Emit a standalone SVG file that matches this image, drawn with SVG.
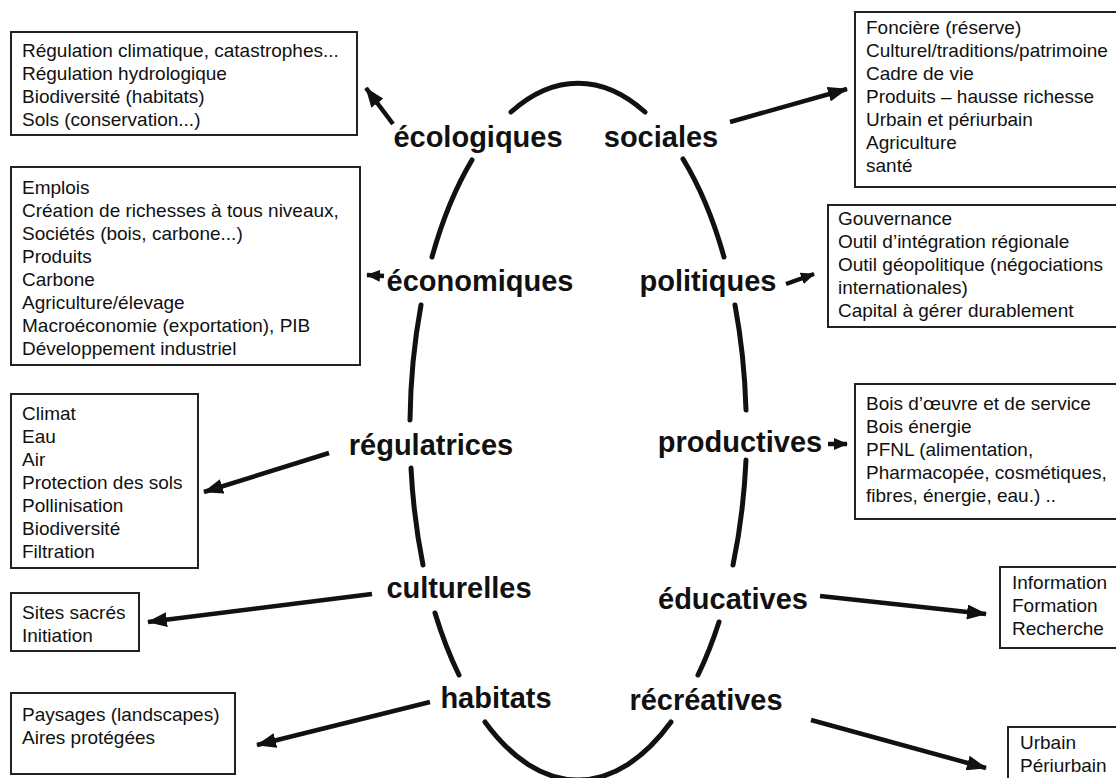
<svg xmlns="http://www.w3.org/2000/svg" width="1116" height="778" viewBox="0 0 1116 778">
<style>
.box{fill:#fff;stroke:#222;stroke-width:2}
.bt{font-family:"Liberation Sans",Arial,sans-serif;font-size:19px;fill:#111}
.lab{font-family:"Liberation Sans",Arial,sans-serif;font-size:29px;font-weight:bold;fill:#111;text-anchor:middle}
.arc{fill:none;stroke:#111;stroke-width:5;stroke-linecap:round}
.arr{fill:none;stroke:#111;stroke-width:4.5}
</style>
<defs>
<marker id="ah" viewBox="0 0 20 15" markerWidth="20" markerHeight="15" refX="19" refY="7.5" orient="auto" markerUnits="userSpaceOnUse"><path d="M0,0 L20,7.5 L0,15 z" fill="#111"/></marker>
<marker id="ahs" viewBox="0 0 14 12" markerWidth="14" markerHeight="12" refX="13" refY="6" orient="auto" markerUnits="userSpaceOnUse"><path d="M0,0 L14,6 L0,12 z" fill="#111"/></marker>
</defs>
<rect width="1116" height="778" fill="#fff"/>

<g id="ellipse">
<path class="arc" d="M511 112 A168 347 0 0 1 645 112"/>
<path class="arc" d="M472 160 A168 347 0 0 0 432 257"/>
<path class="arc" d="M421 305 A168 347 0 0 0 410 420"/>
<path class="arc" d="M411 468 A168 347 0 0 0 423 565"/>
<path class="arc" d="M435 613 A168 347 0 0 0 459 675"/>
<path class="arc" d="M485 722 A168 347 0 0 0 671 722"/>
<path class="arc" d="M683 159 A168 347 0 0 1 724 257"/>
<path class="arc" d="M735 305 A168 347 0 0 1 746 410"/>
<path class="arc" d="M746 460 A168 347 0 0 1 733 565"/>
<path class="arc" d="M719 622 A168 347 0 0 1 698 675"/>
</g>

<g id="connectors">
<path class="arr" d="M393 124 L366 88" marker-end="url(#ah)"/>
<path class="arr" d="M730 122 L847 89" marker-end="url(#ah)"/>
<path class="arr" d="M384 276 L367 275" marker-end="url(#ahs)"/>
<path class="arr" d="M786 284 L814 274" marker-end="url(#ahs)"/>
<path class="arr" d="M329 453 L204 492" marker-end="url(#ah)"/>
<path class="arr" d="M828 444 L847 444" marker-end="url(#ahs)"/>
<path class="arr" d="M372 594 L148 622" marker-end="url(#ah)"/>
<path class="arr" d="M430 702 L257 745" marker-end="url(#ah)"/>
<path class="arr" d="M820 596 L986 614" marker-end="url(#ah)"/>
<path class="arr" d="M811 720 L986 768" marker-end="url(#ah)"/>
</g>

<g id="lab-ecologiques"><text class="lab" x="478" y="147">écologiques</text></g>
<g id="lab-sociales"><text class="lab" x="661" y="147">sociales</text></g>
<g id="lab-economiques"><text class="lab" x="480" y="291">économiques</text></g>
<g id="lab-politiques"><text class="lab" x="708" y="291">politiques</text></g>
<g id="lab-regulatrices"><text class="lab" x="431" y="455">régulatrices</text></g>
<g id="lab-productives"><text class="lab" x="740" y="452">productives</text></g>
<g id="lab-culturelles"><text class="lab" x="459" y="598">culturelles</text></g>
<g id="lab-educatives"><text class="lab" x="733" y="609">éducatives</text></g>
<g id="lab-habitats"><text class="lab" x="496" y="708">habitats</text></g>
<g id="lab-recreatives"><text class="lab" x="706" y="710">récréatives</text></g>

<g id="box-ecologiques">
<rect class="box" x="11" y="32" width="346" height="103"/>
<text class="bt"><tspan x="22" y="57">Régulation climatique, catastrophes...</tspan><tspan x="22" y="80">Régulation hydrologique</tspan><tspan x="22" y="103">Biodiversité (habitats)</tspan><tspan x="22" y="126">Sols (conservation...)</tspan></text>
</g>
<g id="box-economiques">
<rect class="box" x="11" y="167" width="349" height="198"/>
<text class="bt"><tspan x="22" y="194">Emplois</tspan><tspan x="22" y="217">Création de richesses à tous niveaux,</tspan><tspan x="22" y="240">Sociétés (bois, carbone...)</tspan><tspan x="22" y="263">Produits</tspan><tspan x="22" y="286">Carbone</tspan><tspan x="22" y="309">Agriculture/élevage</tspan><tspan x="22" y="332">Macroéconomie (exportation), PIB</tspan><tspan x="22" y="355">Développement industriel</tspan></text>
</g>
<g id="box-regulatrices">
<rect class="box" x="11" y="394" width="187" height="174"/>
<text class="bt"><tspan x="22" y="420">Climat</tspan><tspan x="22" y="443">Eau</tspan><tspan x="22" y="466">Air</tspan><tspan x="22" y="489">Protection des sols</tspan><tspan x="22" y="512">Pollinisation</tspan><tspan x="22" y="535">Biodiversité</tspan><tspan x="22" y="558">Filtration</tspan></text>
</g>
<g id="box-culturelles">
<rect class="box" x="11" y="593" width="128" height="58"/>
<text class="bt"><tspan x="22" y="619">Sites sacrés</tspan><tspan x="22" y="642">Initiation</tspan></text>
</g>
<g id="box-habitats">
<rect class="box" x="11" y="693" width="224" height="81"/>
<text class="bt"><tspan x="22" y="721">Paysages (landscapes)</tspan><tspan x="22" y="744">Aires protégées</tspan></text>
</g>

<g id="box-sociales">
<rect class="box" x="855" y="12" width="265" height="175"/>
<text class="bt"><tspan x="866" y="34">Foncière (réserve)</tspan><tspan x="866" y="57">Culturel/traditions/patrimoine</tspan><tspan x="866" y="80">Cadre de vie</tspan><tspan x="866" y="103">Produits – hausse richesse</tspan><tspan x="866" y="126">Urbain et périurbain</tspan><tspan x="866" y="149">Agriculture</tspan><tspan x="866" y="172">santé</tspan></text>
</g>
<g id="box-politiques">
<rect class="box" x="828" y="205" width="292" height="122"/>
<text class="bt"><tspan x="838" y="225">Gouvernance</tspan><tspan x="838" y="248">Outil d’intégration régionale</tspan><tspan x="838" y="271">Outil géopolitique (négociations</tspan><tspan x="838" y="294">internationales)</tspan><tspan x="838" y="317">Capital à gérer durablement</tspan></text>
</g>
<g id="box-productives">
<rect class="box" x="855" y="384" width="265" height="135"/>
<text class="bt"><tspan x="866" y="410">Bois d’œuvre et de service</tspan><tspan x="866" y="433">Bois énergie</tspan><tspan x="866" y="456">PFNL (alimentation,</tspan><tspan x="866" y="479">Pharmacopée, cosmétiques,</tspan><tspan x="866" y="502">fibres, énergie, eau.) ..</tspan></text>
</g>
<g id="box-educatives">
<rect class="box" x="1000" y="567" width="120" height="81"/>
<text class="bt"><tspan x="1012" y="589">Information</tspan><tspan x="1012" y="612">Formation</tspan><tspan x="1012" y="635">Recherche</tspan></text>
</g>
<g id="box-recreatives">
<rect class="box" x="1008" y="727" width="112" height="60"/>
<text class="bt"><tspan x="1020" y="749">Urbain</tspan><tspan x="1020" y="772">Périurbain</tspan></text>
</g>
</svg>
